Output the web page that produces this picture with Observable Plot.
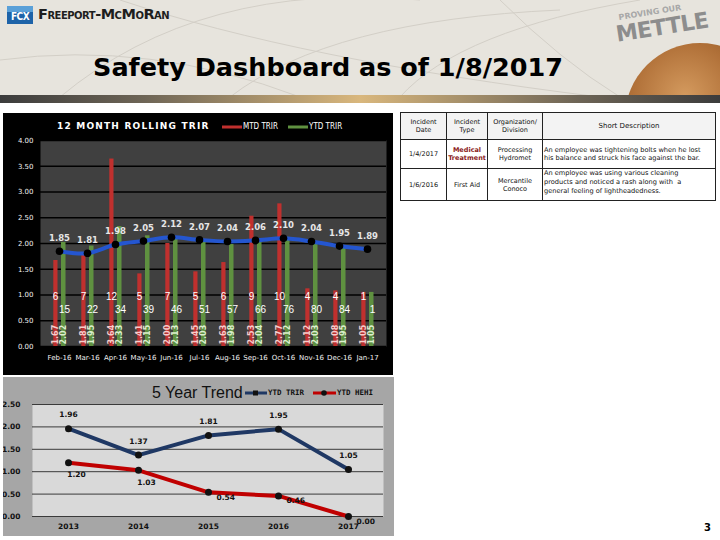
<!DOCTYPE html>
<html><head><meta charset="utf-8">
<script src="https://cdn.jsdelivr.net/npm/d3@7"></script>
<script src="https://cdn.jsdelivr.net/npm/@observablehq/plot@0.6"></script>
<style>
body{margin:0;background:#fff;font-family:"DejaVu Sans",sans-serif;}
#page{position:relative;width:720px;height:540px;overflow:hidden;background:#fff;}
.abs{position:absolute;}
#hdr{left:0;top:0;width:720px;height:97px;background:#e7e4dd;overflow:hidden;}
#gbar{left:0;top:95px;width:720px;height:8px;background:linear-gradient(to right,#3c3c3c 0%,#6e6556 20%,#d9b77d 50%,#6e6556 80%,#3c3c3c 100%);}
#logo{left:7px;top:6px;width:26px;height:18px;background:linear-gradient(#5aa0d8 0 35%,#1e63a8 35%);color:#fff;font:bold 10px "DejaVu Sans Condensed";line-height:22px;text-align:center;letter-spacing:-0.5px;}
#brand{left:38px;top:6px;font:bold 14.5px "DejaVu Sans";font-variant:small-caps;color:#1e1e1e;letter-spacing:-0.5px;}
#title{left:0;top:52px;width:656px;text-align:center;font:bold 25.5px "DejaVu Sans";color:#000;}
#proving{left:618px;top:13px;font:bold 8px "DejaVu Sans";color:#a8a8a8;transform:rotate(-9deg);transform-origin:left top;}
#mettle{left:614px;top:22px;font:900 22px "DejaVu Sans";color:#8d8d8d;transform:rotate(-9deg);transform-origin:left top;letter-spacing:-0.5px;}
#globe{left:625px;top:43px;width:150px;height:150px;border-radius:50%;background:radial-gradient(circle at 40% 35%,#d49a5e 0%,#b07038 40%,#84501f 75%,#5a3212 100%);}
#topPanel{left:3px;top:113px;width:390px;height:262px;background:#000;}
#ttl1{left:57px;top:121px;font:bold 9px "DejaVu Sans";color:#fff;letter-spacing:1.2px;}
.leg{font:8px "DejaVu Sans Condensed";color:#fff;}
#botPanel{left:3px;top:377px;width:391px;height:159px;background:#a6a6a6;}
#ttl2{left:152px;top:384px;font:16px "Liberation Sans";color:#111;}
table{border-collapse:collapse;font:6.5px "DejaVu Sans";color:#111;}
td,th{border:1px solid #222;padding:0 1px;text-align:center;vertical-align:middle;font-weight:normal;overflow:hidden;}
th{background:#f3f3f3;}
#pg{left:704px;top:522px;font:bold 10px "DejaVu Sans";}
</style></head>
<body><div id="page">
<div id="hdr" class="abs">
<svg width="720" height="97" style="position:absolute;left:0;top:0">
<g fill="none" stroke="#d3cfc7" stroke-width="1">
<path d="M60 97 Q200 -20 420 0"/><path d="M230 97 Q330 20 560 10"/><path d="M120 0 Q300 60 600 97"/>
<path d="M400 97 Q460 30 640 0"/><path d="M0 60 Q150 40 300 97"/><path d="M500 0 Q560 60 620 97"/>
</g></svg>
<div id="globe" class="abs"></div>
</div>
<div id="gbar" class="abs"></div>
<div id="logo" class="abs">FCX</div>
<div id="brand" class="abs">Freeport-McMoRan</div>
<div id="proving" class="abs">PROVING OUR</div>
<div id="mettle" class="abs">METTLE</div>
<div id="title" class="abs">Safety Dashboard as of 1/8/2017</div>

<div id="topPanel" class="abs"></div>
<div id="topChart" class="abs" style="left:3px;top:113px"></div>
<div id="ttl1" class="abs">12 MONTH ROLLING TRIR</div>
<svg class="abs" style="left:220px;top:120px" width="140" height="14">
<line x1="2" x2="22" y1="7" y2="7" stroke="#c0302e" stroke-width="3"/>
<line x1="68" x2="88" y1="7" y2="7" stroke="#5f9140" stroke-width="3"/>
</svg>
<div class="abs leg" style="left:243px;top:122px">MTD TRIR</div>
<div class="abs leg" style="left:309px;top:122px">YTD TRIR</div>

<div id="botPanel" class="abs"></div>
<div id="botChart" class="abs" style="left:3px;top:377px"></div>
<div id="ttl2" class="abs">5 Year Trend</div>
<svg class="abs" style="left:243px;top:386px" width="100" height="14">
<line x1="2" x2="24" y1="7" y2="7" stroke="#1f3864" stroke-width="3"/>
<rect x="10" y="4.5" width="5" height="5" fill="#111"/>
<line x1="70" x2="93" y1="7" y2="7" stroke="#c00000" stroke-width="3"/>
<circle cx="81" cy="7" r="2.8" fill="#111"/>
</svg>
<div class="abs" style="left:268px;top:388px;font:bold 7.5px 'DejaVu Sans Mono';color:#111">YTD TRIR</div>
<div class="abs" style="left:337px;top:388px;font:bold 7.5px 'DejaVu Sans Mono';color:#111">YTD HEHI</div>

<div class="abs" style="left:400px;top:112px">
<table>
<colgroup><col style="width:46px"><col style="width:41px"><col style="width:55px"><col style="width:173px"></colgroup>
<tr style="height:27px"><th>Incident<br>Date</th><th>Incident<br>Type</th><th>Organization/<br>Division</th><th style="font-size:7px">Short Description</th></tr>
<tr style="height:29px"><td>1/4/2017</td><td style="color:#8b1a1a;font-weight:bold">Medical<br>Treatment</td><td>Processing<br>Hydromet</td><td style="text-align:left;font-size:6.6px;white-space:nowrap">An employee was tightening bolts when he lost<br>his balance and struck his face against the bar.</td></tr>
<tr style="height:32px"><td>1/6/2016</td><td>First Aid</td><td>Mercantile<br>Conoco</td><td style="text-align:left;padding:0;"><div style="height:31px;overflow:hidden;padding:0 1px;line-height:9px;font-size:6.6px;white-space:nowrap">An employee was using various cleaning<br>products and noticed a rash along with&nbsp; a<br>general feeling of lightheadedness.</div></td></tr>
</table></div>
<div id="pg" class="abs">3</div>
</div>
<script>
// ---- 12 month rolling TRIR data ----
const months = ["Feb-16","Mar-16","Apr-16","May-16","Jun-16","Jul-16","Aug-16","Sep-16","Oct-16","Nov-16","Dec-16","Jan-17"];
const mtdTrir = [1.67,1.81,3.64,1.41,2.00,1.45,1.63,2.53,2.77,1.12,1.08,1.05];
const ytdTrir = [2.02,1.95,2.33,2.15,2.13,2.03,1.98,2.04,2.12,2.03,1.95,1.05];
const rollingTrir = [1.85,1.81,1.98,2.05,2.12,2.07,2.04,2.06,2.10,2.04,1.95,1.89];
const mtdCount = [6,7,12,5,7,5,6,9,10,4,4,1];
const ytdCount = [15,22,34,39,46,51,57,66,76,80,84,1];
const topTicks = [0,0.5,1,1.5,2,2.5,3,3.5,4];
// ---- 5 year trend data ----
const years = ["2013","2014","2015","2016","2017"];
const ytdTrirYear = [1.96,1.37,1.81,1.95,1.05];
const ytdHehi = [1.20,1.03,0.54,0.46,0.00];
const botTicks = [0,0.5,1,1.5,2,2.5];

const rows = months.map((m,i)=>({month:m, mtd:mtdTrir[i], ytd:ytdTrir[i], roll:rollingTrir[i], mc:mtdCount[i], yc:ytdCount[i]}));
const f2 = d3.format(".2f");

const topPlot = Plot.plot({
  width: 390, height: 262,
  marginLeft: 37, marginRight: 7, marginTop: 27, marginBottom: 29,
  style: {background: "transparent", color: "#f0f0f0", fontFamily: "DejaVu Sans", fontSize: "7px"},
  x: {type: "band", domain: months, padding: 0, label: null, tickSize: 0, tickPadding: 9},
  y: {domain: [0, 4], ticks: topTicks, tickFormat: f2, label: null, tickSize: 0, tickPadding: 7},
  marks: [
    Plot.frame({fill: "#404040"}),
    Plot.ruleY(topTicks, {stroke: "#000", strokeWidth: 1.3}),
    Plot.barY(rows, {x: "month", y: "mtd", fill: "#c0302e", insetLeft: 8.3, insetRight: 15.5}),
    Plot.barY(rows, {x: "month", y: "ytd", fill: "#5f9140", insetLeft: 16, insetRight: 7.5}),
    Plot.text(rows, {x: "month", text: d => f2(d.mtd), frameAnchor: "bottom", dy: -2, dx: -3.6, rotate: -90, textAnchor: "start", lineAnchor: "middle", fill: "#f6cccc", fontWeight: "bold", fontSize: 8}),
    Plot.text(rows, {x: "month", text: d => f2(d.ytd), frameAnchor: "bottom", dy: -2, dx: 4.3, rotate: -90, textAnchor: "start", lineAnchor: "middle", fill: "#dcefcf", fontWeight: "bold", fontSize: 8}),
    Plot.text(rows, {x: "month", text: "mc", frameAnchor: "bottom", dy: -47, dx: -4, fill: "#fff", fontSize: 10, fontFamily: "Liberation Sans"}),
    Plot.text(rows, {x: "month", text: "yc", frameAnchor: "bottom", dy: -34, dx: 5, fill: "#fff", fontSize: 10, fontFamily: "Liberation Sans"}),
    Plot.line(rows, {x: "month", y: "roll", stroke: "#2456d0", strokeWidth: 4, curve: "catmull-rom"}),
    Plot.dot(rows, {x: "month", y: "roll", r: 3.8, fill: "#000"}),
    Plot.text(rows, {x: "month", y: "roll", text: d => f2(d.roll), dy: -13, fill: "#e6e6e6", fontWeight: "bold", fontSize: 8.5})
  ]
});
document.getElementById("topChart").append(topPlot);

const yr = years.map((y,i)=>({year:y, trir:ytdTrirYear[i], hehi:ytdHehi[i], i}));
const botPlot = Plot.plot({
  width: 391, height: 159,
  marginLeft: 29, marginRight: 11, marginTop: 27, marginBottom: 20,
  style: {background: "transparent", color: "#111", fontFamily: "DejaVu Sans", fontSize: "7.5px", fontWeight: "bold"},
  x: {type: "point", domain: years, padding: 0.5, label: null, tickSize: 0, tickPadding: 7},
  y: {domain: [0, 2.5], ticks: botTicks, tickFormat: f2, label: null, tickSize: 0, tickPadding: 12},
  marks: [
    Plot.frame({fill: "#d9d9d9"}),
    Plot.ruleY(botTicks, {stroke: "#3a3a3a", strokeWidth: 1}),
    Plot.line(yr, {x: "year", y: "hehi", stroke: "#c00000", strokeWidth: 4}),
    Plot.line(yr, {x: "year", y: "trir", stroke: "#1f3864", strokeWidth: 4}),
    Plot.dot(yr, {x: "year", y: "trir", r: 3.5, fill: "#111"}),
    Plot.dot(yr, {x: "year", y: "hehi", r: 3.5, fill: "#111"}),
    Plot.text(yr, {x: "year", y: "trir", text: d => f2(d.trir), dy: -14, fill: "#111", fontSize: 7.5, fontWeight: "bold"}),
    Plot.text(yr, {filter: d => d.i < 2, x: "year", y: "hehi", text: d => f2(d.hehi), dx: 8, dy: 12, fill: "#111", fontSize: 7.5, fontWeight: "bold"}),
    Plot.text(yr, {filter: d => d.i >= 2, x: "year", y: "hehi", text: d => f2(d.hehi), dx: 8, dy: 5, textAnchor: "start", fill: "#111", fontSize: 7.5, fontWeight: "bold"})
  ]
});
document.getElementById("botChart").append(botPlot);
</script>
</body></html>
